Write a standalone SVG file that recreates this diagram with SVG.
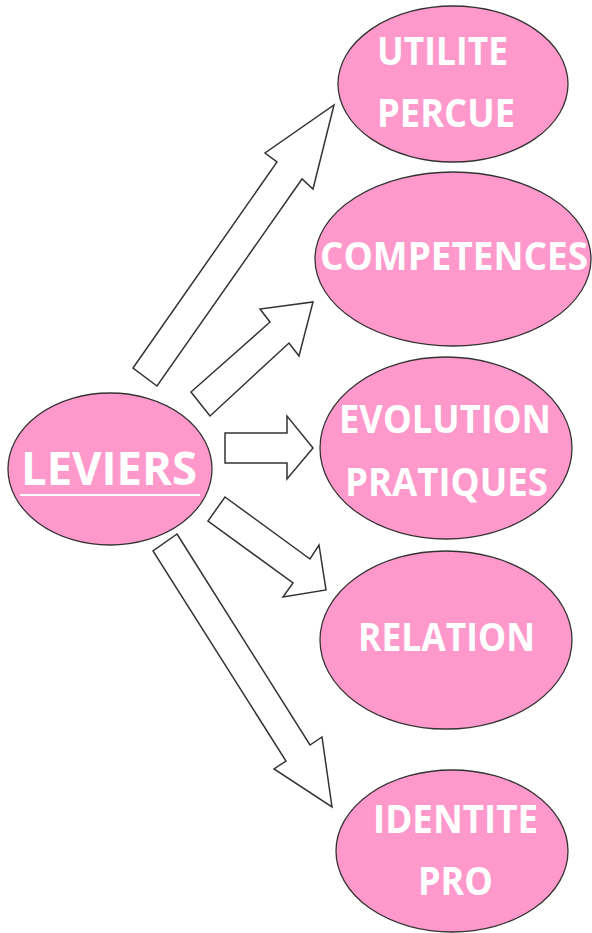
<svg xmlns="http://www.w3.org/2000/svg" width="592" height="933" viewBox="0 0 592 933">
<style>
.node ellipse{fill:#FF99CC;stroke:#333;stroke-width:1.3}
.node text{font-family:"Open Sans","Liberation Sans",sans-serif;font-weight:bold;font-size:39px;fill:#fff}
.arr polygon{fill:#fff;stroke:#333;stroke-width:1.5;stroke-linejoin:miter}
</style>
<rect width="592" height="933" fill="#fff"/>
<g id="connectors" class="arr">
<polygon points="133,368 277,162 265,153 334,105 313,189 302,179 157,386"/>
<polygon points="191,392 270,322 260,309 313,302 299,356 289,343 210,416"/>
<polygon points="225,433 287,433 287,416 313,448 287,479 287,463 225,463"/>
<polygon points="225,497 310,559 319,545 326,590 283,597 293,583 208,521"/>
<polygon points="177,534 310,745 322,737 332,807 274,769 286,761 153,551"/>
</g>
<g id="leviers" class="node">
<ellipse cx="110" cy="469" rx="102" ry="76"/>
<text x="21" y="485" style="font-size:46px" textLength="176" lengthAdjust="spacingAndGlyphs">LEVIERS</text>
<rect x="20" y="494" width="180" height="2" fill="#fff"/>
</g>
<g id="utilite" class="node">
<ellipse cx="453" cy="84" rx="115" ry="78"/>
<text x="377" y="65" textLength="131" lengthAdjust="spacingAndGlyphs">UTILITE</text>
<text x="377" y="127" textLength="138" lengthAdjust="spacingAndGlyphs">PERCUE</text>
</g>
<g id="competences" class="node">
<ellipse cx="453" cy="259" rx="138" ry="87"/>
<text x="320" y="270" textLength="268" lengthAdjust="spacingAndGlyphs">COMPETENCES</text>
</g>
<g id="evolution" class="node">
<ellipse cx="446" cy="448" rx="126" ry="91"/>
<text x="339" y="433" textLength="212" lengthAdjust="spacingAndGlyphs">EVOLUTION</text>
<text x="345" y="496" textLength="203" lengthAdjust="spacingAndGlyphs">PRATIQUES</text>
</g>
<g id="relation" class="node">
<ellipse cx="446" cy="640" rx="126" ry="89"/>
<text x="358" y="651" textLength="177" lengthAdjust="spacingAndGlyphs">RELATION</text>
</g>
<g id="identite" class="node">
<ellipse cx="452" cy="851" rx="116" ry="81"/>
<text x="373" y="833" textLength="165" lengthAdjust="spacingAndGlyphs">IDENTITE</text>
<text x="418" y="895" textLength="75" lengthAdjust="spacingAndGlyphs">PRO</text>
</g>
</svg>
